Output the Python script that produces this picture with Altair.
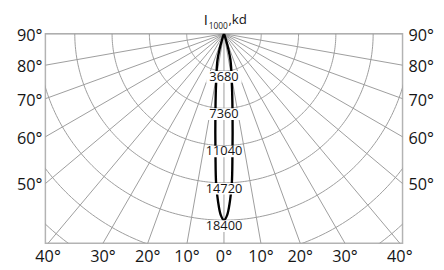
import altair as alt
import pandas as pd
import numpy as np

# ---- data ----
curve_angles = [0, 1, 2, 3, 4, 5, 6, 7, 8, 9, 10, 12, 14, 16, 18, 20]
curve_cd = [18400, 17900, 16600, 14800, 12000, 9800, 8100, 6800, 5800, 4950, 4300, 3400, 2600, 1500, 600, 0]
ring_values = [3680, 7360, 11040, 14720, 18400]
ring_labels = ["3680", "7360", "11040", "14720", "18400"]
outer_rings = [22080, 25760]
radial_angles = list(range(-90, 91, 10))
side_angles = [90, 80, 70, 60, 50]
side_labels = ["90°", "80°", "70°", "60°", "50°"]
bottom_angles = [-40, -30, -20, -10, 0, 10, 20, 30, 40]
bottom_labels = ["40°", "30°", "20°", "10°", "0°", "10°", "20°", "30°", "40°"]
title_parts = ["I", "1000", ",kd"]

XMAX = 17620
YMIN = -20680
W, H = 363, 213
FONT = "Open Sans"
GRID = "#9c9c9c"
TXT = "#151515"

xs = alt.Scale(domain=[-XMAX, XMAX], nice=False, zero=False)
ys = alt.Scale(domain=[YMIN, 0], nice=False, zero=False)


def X(f):
    return alt.X(f, type="quantitative", scale=xs, axis=None)


def Y(f):
    return alt.Y(f, type="quantitative", scale=ys, axis=None)


rad = np.radians

# radial grid lines
R = 40000
rad_df = pd.DataFrame({
    "x": [0.0] * len(radial_angles),
    "y": [0.0] * len(radial_angles),
    "x2": [R * np.sin(rad(a)) for a in radial_angles],
    "y2": [-R * np.cos(rad(a)) for a in radial_angles],
})
radials = alt.Chart(rad_df).mark_rule(clip=True, color=GRID, strokeWidth=1).encode(
    x=X("x"), y=Y("y"), x2="x2", y2="y2"
)

# ring grid arcs
rows = []
for r in ring_values + outer_rings:
    for i, a in enumerate(np.arange(-90, 90.5, 1.0)):
        rows.append({"ring": r, "o": i, "x": r * np.sin(rad(a)), "y": -r * np.cos(rad(a))})
ring_df = pd.DataFrame(rows)
rings = alt.Chart(ring_df).mark_line(clip=True, color=GRID, strokeWidth=1).encode(
    x=X("x"), y=Y("y"), detail="ring:N", order="o:Q"
)

# luminous intensity curve (symmetric)
full_ang = [-a for a in curve_angles[::-1]] + curve_angles[1:]
full_cd = curve_cd[::-1] + curve_cd[1:]
curve_df = pd.DataFrame({
    "o": list(range(len(full_ang))),
    "x": [c * np.sin(rad(a)) for a, c in zip(full_ang, full_cd)],
    "y": [-c * np.cos(rad(a)) for a, c in zip(full_ang, full_cd)],
})
curve = alt.Chart(curve_df).mark_line(
    color="black", strokeWidth=2.4, interpolate="catmull-rom", clip=True
).encode(x=X("x"), y=Y("y"), order="o:Q")

# ring value labels with white boxes
lab_df = pd.DataFrame({"x": [0.0] * len(ring_values), "y": [-v for v in ring_values], "t": ring_labels})
box_path = "M-1,-0.33L1,-0.33L1,0.33L-1,0.33Z"
boxes = alt.Chart(lab_df).mark_point(
    shape=box_path, size=36 * 36, filled=True, fill="white", opacity=1, strokeWidth=0, yOffset=6
).encode(x=X("x"), y=Y("y"))
labels = alt.Chart(lab_df).mark_text(
    font=FONT, fontSize=13, color=TXT, baseline="middle", align="center", dy=6
).encode(x=X("x"), y=Y("y"), text="t:N")

# side labels
side_df = pd.DataFrame({
    "y": [-XMAX / np.tan(rad(a)) if a != 90 else 0.0 for a in side_angles],
    "t": side_labels,
})
left = alt.Chart(side_df).mark_text(
    font=FONT, fontSize=16.5, color=TXT, align="right", baseline="middle", dy=2
).encode(x=alt.value(-3), y=Y("y"), text="t:N")
right = alt.Chart(side_df).mark_text(
    font=FONT, fontSize=16.5, color=TXT, align="left", baseline="middle", dy=2
).encode(x=alt.value(W + 6), y=Y("y"), text="t:N")

# bottom labels
bot_df = pd.DataFrame({
    "x": [-YMIN * np.tan(rad(a)) for a in bottom_angles],
    "t": bottom_labels,
})
bottom = alt.Chart(bot_df).mark_text(
    font=FONT, fontSize=16.5, color=TXT, align="center", baseline="middle"
).encode(x=X("x"), y=alt.value(H + 14), text="t:N")

# title: I_1000, kd
t_df = pd.DataFrame({"t": title_parts})
t_main = alt.Chart(t_df).transform_filter("datum.t == 'I'").mark_text(
    font=FONT, fontSize=15, color=TXT, align="left", baseline="alphabetic"
).encode(x=alt.value(161), y=alt.value(-9), text="t:N")
t_sub = alt.Chart(t_df).transform_filter("datum.t == '1000'").mark_text(
    font=FONT, fontSize=8.5, color=TXT, align="left", baseline="alphabetic"
).encode(x=alt.value(166), y=alt.value(-5), text="t:N")
t_kd = alt.Chart(t_df).transform_filter("datum.t == ',kd'").mark_text(
    font=FONT, fontSize=13.5, color=TXT, align="left", baseline="alphabetic"
).encode(x=alt.value(186), y=alt.value(-10), text="t:N")

chart = alt.layer(
    rings, radials, curve, boxes, labels, left, right, bottom, t_main, t_sub, t_kd
).properties(
    width=W, height=H,
    autosize=alt.AutoSizeParams(type="none"),
    padding={"left": 38, "top": 24, "right": 34, "bottom": 22},
).configure_view(stroke="#b3b3b3", strokeWidth=1.5)

chart.save("out.html", embed_options={"renderer": "svg", "actions": False})
